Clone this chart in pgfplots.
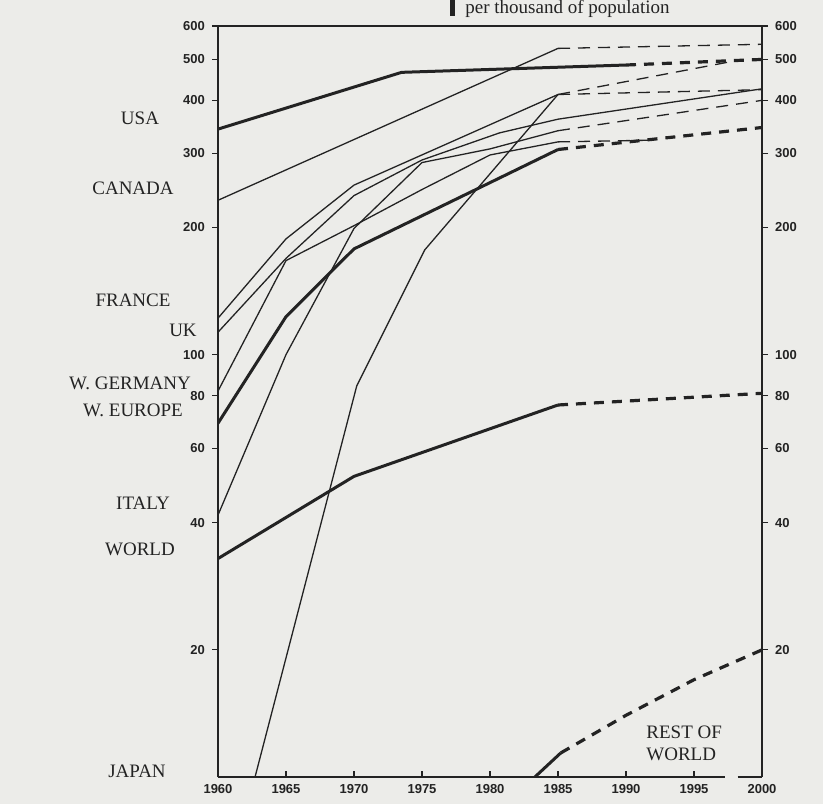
\documentclass[border=0pt]{standalone}
\usepackage{fontspec}
\setmainfont{Liberation Serif}
\setsansfont{Liberation Sans}
\usepackage{pgfplots}
\pgfplotsset{compat=1.18}
\definecolor{paper}{RGB}{236,236,233}
\definecolor{ink}{RGB}{35,35,35}
\pgfplotsset{
  thinl/.style={ink, line width=0.65pt, no marks},
  thickl/.style={ink, line width=1.5pt, no marks},
  thind/.style={ink, line width=0.65pt, no marks, dash pattern=on 6pt off 4pt},
  thickd/.style={ink, line width=1.6pt, no marks, dash pattern=on 5pt off 4pt},
}
\begin{document}
\begin{tikzpicture}
\useasboundingbox[fill=paper] (-109pt,-13.5pt) rectangle (302.5pt,388.5pt);
\begin{axis}[
  at={(0pt,0pt)}, anchor=south west,
  scale only axis, width=272pt, height=375.5pt,
  xmin=1960, xmax=2000, ymode=log, ymin=10, ymax=600,
  ytick={20,40,60,80,100,200,300,400,500,600},
  yticklabels={20,40,60,80,100,200,300,400,500,600},
  yminorticks=false,
  major tick length=3pt,
  tick style={ink, line width=0.6pt},
  ticklabel style={font=\sffamily\bfseries\fontsize{6.5}{7}\selectfont, text=ink},
  axis line style={ink, line width=0.7pt},
  xtick={1960,1965,...,2000},
  xticklabels={1960,1965,1970,1975,1980,1985,1990,1995,2000},
  xtick align=inside, ytick align=outside, xtick pos=bottom, ytick pos=left,
  separate axis lines,
  every outer x axis line/.append style={draw=none},
]
% USA
\addplot[thickl] coordinates {(1960,342) (1973.5,466) (1990,485)};
\addplot[thickd] coordinates {(1990,485) (2000,500)};
% Canada
\addplot[thinl] coordinates {(1960,232) (1985,531)};
\addplot[thind] coordinates {(1985,531) (2000,543)};
% France
\addplot[thinl] coordinates {(1960,122) (1965,188) (1970,252) (1985,413)};
\addplot[thind] coordinates {(1985,413) (2000,424)};
% UK
\addplot[thinl] coordinates {(1960,113) (1965,169) (1970,238) (1975,289) (1980.7,335) (1985,361) (2000,426)};
% W. Germany
\addplot[thinl] coordinates {(1960,82) (1965,167) (1970,202) (1975,246) (1980,297) (1985,319)};
\addplot[thind] coordinates {(1985,319) (1992,322)};
% Italy
\addplot[thinl] coordinates {(1960,41.7) (1965,100) (1970,199) (1975,285) (1980,307) (1985,339)};
\addplot[thind] coordinates {(1985,339) (2000,400)};
% Japan
\addplot[thinl] coordinates {(1960,4.6) (1970.2,84.3) (1975.2,177) (1985,413)};
\addplot[thind] coordinates {(1985,413) (1998,496)};
% W. Europe
\addplot[thickl] coordinates {(1960,68.8) (1965,123) (1970,178) (1985,306)};
\addplot[thickd] coordinates {(1985,306) (2000,345)};
% World
\addplot[thickl] coordinates {(1960,32.9) (1970,51.5) (1985,76)};
\addplot[thickd] coordinates {(1985,76) (2000,81)};
% Rest of world
\addplot[thickl] coordinates {(1983.3,10) (1985.2,11.4)};
\addplot[thickd] coordinates {(1985.2,11.4) (1990,14.0) (1995,17.0) (2000,20)};
% top and bottom box lines
\draw[ink, line width=0.7pt] (rel axis cs:0,1) -- (rel axis cs:1,1);
\draw[ink, line width=0.7pt] (rel axis cs:0,0) -- (axis cs:1997.3,10);
\draw[ink, line width=0.7pt] (axis cs:1998.2,10) -- (rel axis cs:1,0);
\end{axis}
\begin{axis}[
  at={(0pt,0pt)}, anchor=south west,
  scale only axis, width=272pt, height=375.5pt,
  xmin=1960, xmax=2000, ymode=log, ymin=10, ymax=600,
  ytick={20,40,60,80,100,200,300,400,500,600},
  yticklabels={20,40,60,80,100,200,300,400,500,600},
  yminorticks=false,
  major tick length=3pt,
  tick style={ink, line width=0.6pt},
  ticklabel style={font=\sffamily\bfseries\fontsize{6.5}{7}\selectfont, text=ink},
  axis line style={ink, line width=0.7pt},
  ytick align=outside,
  axis x line=none, axis y line*=right, ytick pos=right,
]
\end{axis}
% country labels
\begin{scope}[every node/.style={font=\fontsize{9.5}{11}\selectfont, text=ink, inner sep=0pt}]
\node at (-39pt,329.5pt) {USA};
\node at (-42.5pt,294.5pt) {CANADA};
\node at (-42.5pt,238.5pt) {FRANCE};
\node at (-17.5pt,223.5pt) {UK};
\node at (-44pt,197pt) {W. GERMANY};
\node at (-42.5pt,183.5pt) {W. EUROPE};
\node at (-37.5pt,137pt) {ITALY};
\node at (-39pt,114pt) {WORLD};
\node at (-40.5pt,3pt) {JAPAN};
\node[anchor=west, align=left] at (214pt,17pt) {REST OF\\WORLD};
\node[anchor=base west] at (123.5pt,381.5pt) {per thousand of population};
\end{scope}
\fill[ink] (116pt,380.5pt) rectangle (118.5pt,388.5pt);
\end{tikzpicture}
\end{document}
